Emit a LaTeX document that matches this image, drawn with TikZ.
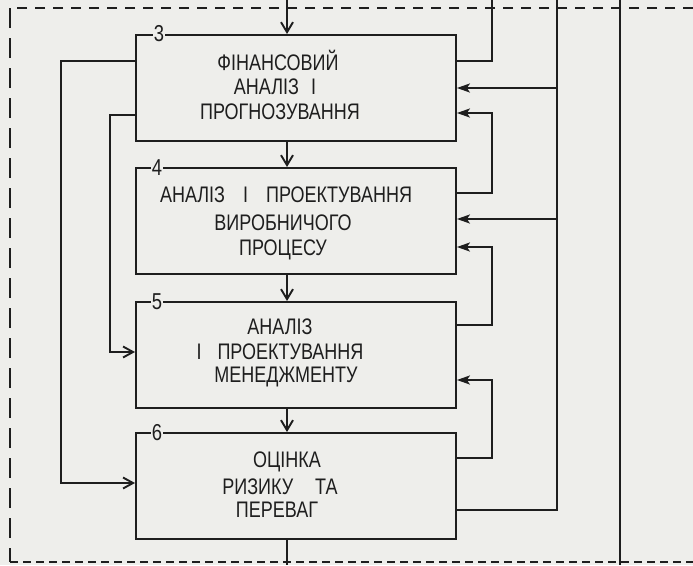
\documentclass[tikz,border=0pt]{standalone}
\usepackage{fontspec}
\setmainfont{Liberation Sans}[FakeStretch=0.80]
\usetikzlibrary{arrows.meta}
\definecolor{paper}{RGB}{238,238,235}
\definecolor{ink}{RGB}{30,30,30}
\begin{document}
\begin{tikzpicture}[x=1pt,y=-1pt,
  line width=1.9pt, draw=ink,
  blk/.style={draw=ink, line width=1.9pt, minimum width=320pt, minimum height=106pt, inner sep=0pt, anchor=north west},
  txt/.style={text=ink, font=\fontsize{22.5}{26}\selectfont, inner sep=0pt},
  num/.style={text=ink, fill=paper, font=\fontsize{23}{24}\selectfont, inner sep=1pt},
  vin/.style={-{Straight Barb[length=10pt,width=12pt]}},
  lin/.style={-{Straight Barb[length=10pt,width=11pt]}},
  rin/.style={-{Stealth[length=13pt,width=9pt,inset=3pt]}},
  topdash/.style={dash pattern=on 10pt off 8pt, line width=1.9pt},
  leftdash/.style={dash pattern=on 20pt off 10pt, line width=1.9pt},
  botdash/.style={dash pattern=on 8pt off 5pt, line width=1.9pt}]
\fill[paper] (0,0) rectangle (693,565);
\useasboundingbox (0,0) rectangle (693,565);

% frame dashed lines
\draw[topdash] (693,8) -- (10,8);
\draw[leftdash] (10,8) -- (10,562);
\draw[botdash] (10,562) -- (693,562);

% boxes
\node[blk] (b3) at (135,34) {};
\node[blk] (b4) at (135,167) {};
\node[blk] (b5) at (135,301) {};
\node[blk] (b6) at (135,432) {};

% texts
\node[txt] (t3a) at (278,60) {ФІНАНСОВИЙ};
\node[txt] (t3b) at (275,87) {АНАЛІЗ\hspace{12pt}І};
\node[txt] (t3c) at (280,112) {ПРОГНОЗУВАННЯ};
\node[txt] (t4a) at (286,195) {АНАЛІЗ\hspace{18pt}І\hspace{18pt}ПРОЕКТУВАННЯ};
\node[txt] (t4b) at (283,223) {ВИРОБНИЧОГО};
\node[txt] (t4c) at (283,250) {ПРОЦЕСУ};
\node[txt] (t5a) at (280,327) {АНАЛІЗ};
\node[txt] (t5b) at (280,352) {І\hspace{16pt}ПРОЕКТУВАННЯ};
\node[txt] (t5c) at (286,377) {МЕНЕДЖМЕНТУ};
\node[txt] (t6a) at (287,462) {ОЦІНКА};
\node[txt] (t6b) at (280,487) {РИЗИКУ\hspace{22pt}ТА};
\node[txt] (t6c) at (277,510) {ПЕРЕВАГ};

% numbers
\node[num] (n3) at (159,34) {3};
\node[num] (n4) at (157,168) {4};
\node[num] (n5) at (157,302) {5};
\node[num] (n6) at (157,433) {6};

% main vertical flow
\coordinate (in) at (287,0);
\coordinate (out) at (287,565);
\draw[vin] (in) -- (in |- b3.north);
\draw[vin] (b3.south -| in) -- (b4.north -| in);
\draw[vin] (b4.south -| in) -- (b5.north -| in);
\draw[vin] (b5.south -| in) -- (b6.north -| in);
\draw (b6.south -| in) -- (out);

% left feedback
\coordinate (la) at (61,61);
\coordinate (lb) at (110,115);
\draw[lin] (b3.west |- la) -- (la) -- (61,483) -- (b6.west |- 0,483);
\draw[lin] (b3.west |- lb) -- (lb) -- (110,352) -- (b5.west |- 0,352);

% right side
\coordinate (r1) at (492,61);
\draw (b3.east |- r1) -- (r1) -- (492,0);
\coordinate (bus) at (557,510);
\draw (b6.east |- bus) -- (bus) -- (557,0);
\draw[rin] (557,88) -- (b3.east |- 0,88);
\draw[rin] (557,219) -- (b4.east |- 0,219);
\draw[rin] (b4.east |- 0,193) -- (492,193) -- (492,113) -- (b3.east |- 0,113);
\draw[rin] (b5.east |- 0,325) -- (492,325) -- (492,247) -- (b4.east |- 0,247);
\draw[rin] (b6.east |- 0,458) -- (492,458) -- (492,380) -- (b5.east |- 0,380);
\coordinate (far) at (620,0);
\draw (far) -- (620,565);
\end{tikzpicture}
\end{document}
